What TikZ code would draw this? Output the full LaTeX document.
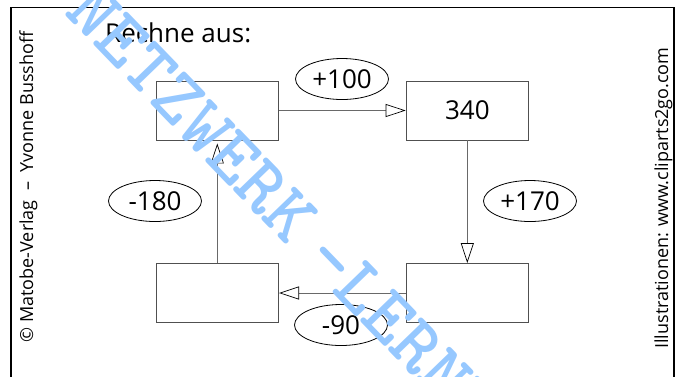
\documentclass[tikz,border=0pt]{standalone}
\usepackage{fontspec}
\setmainfont{Open Sans}
\usetikzlibrary{arrows.meta,shapes.geometric}
\definecolor{wmblue}{RGB}{150,200,255}
\definecolor{boxgray}{RGB}{80,80,80}
\definecolor{arrgray}{RGB}{105,105,105}
\begin{document}
\begin{tikzpicture}[x=1pt,y=-1pt,
  numbox/.style={draw=boxgray, line width=0.9pt, minimum width=122.5pt, minimum height=59pt, inner sep=0pt, font=\fontsize{26}{30}\selectfont},
  oplabel/.style={draw=black, line width=0.8pt, ellipse, minimum width=93pt, minimum height=41pt, inner sep=0pt, font=\fontsize{26}{30}\selectfont},
  flow/.style={draw=arrgray, line width=0.9pt, -{Triangle[length=20pt,width=13pt,fill=white,color=black,line width=0.7pt]}},
  sidetext/.style={rotate=90, anchor=base, font=\fontsize{18}{20}\selectfont},
  watermark/.style={rotate=-46, anchor=base west, inner sep=0pt, text=wmblue, font=\ttfamily\bfseries\fontsize{77}{77}\selectfont}
]
\useasboundingbox (0,0) rectangle (682,376);
\fill[white] (0,0) rectangle (682,376);
% frame
\draw[line width=1.4pt] (11,392) -- (11,7.5) -- (674,7.5) -- (674,392);
% side texts
\node[sidetext] (left) at (33,187) {©~Matobe-Verlag~~–~~Yvonne~Busshoff};
\node[sidetext] (right) at (668,198) {Illustrationen: www.cliparts2go.com};
% title
\node[anchor=base west, inner sep=0pt, font=\fontsize{26}{30}\selectfont] (title) at (105,42) {Rechne aus:};
% boxes
\node[numbox] (b1) at (217.3,110.5) {};
\node[numbox] (b2) at (467.3,110.5) {340};
\node[numbox] (b3) at (467.3,293) {};
\node[numbox] (b4) at (217.3,293) {};
% operation labels
\node[oplabel] (o1) at (342,79) {+100};
\node[oplabel] (o2) at (530,201) {+170};
\node[oplabel] (o3) at (341,325) {-90};
\node[oplabel] (o4) at (155,201) {-180};
% connectors
\draw[flow] (b1.east) -- (b2.west);
\draw[flow] (b2.south) -- (b3.north);
\draw[flow] (b3.west) -- (b4.east);
\draw[flow, shorten >=3pt] (b4.north) -- (b1.south);
% watermark
\node[watermark] (wm) at (63,13.6) {NETZWERK\kern-0.26em{} -LERNEN};
\end{tikzpicture}
\end{document}
